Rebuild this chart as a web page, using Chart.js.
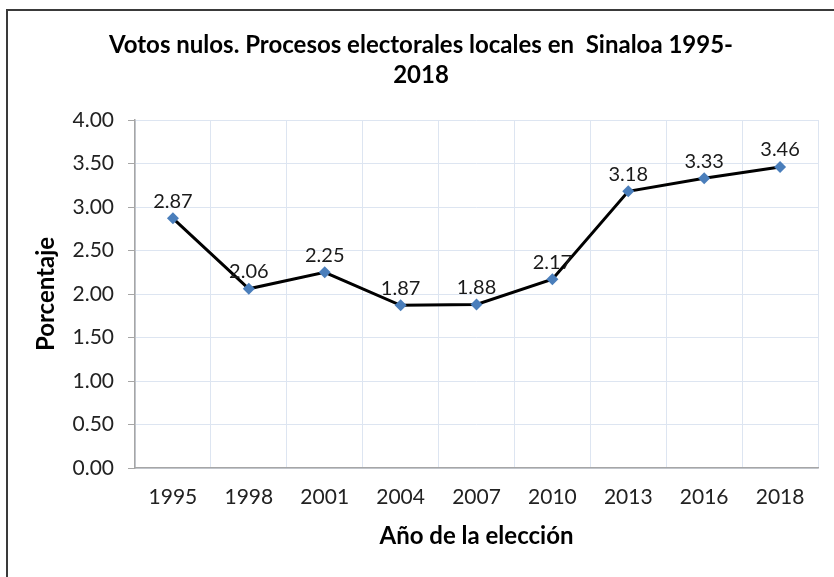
<!DOCTYPE html>
<html>
<head>
<meta charset="utf-8">
<script src="https://cdn.jsdelivr.net/npm/chart.js@4.4.0/dist/chart.umd.min.js"></script>
<style>
  html, body { margin: 0; padding: 0; background: #fff; }
  #frame {
    position: absolute; left: 6px; top: 9px; width: 840px; height: 580px;
    border-top: 2px solid #3a3a3a; border-left: 2px solid #3a3a3a;
  }
  #wrap { position: absolute; left: 0; top: 0; width: 834px; height: 577px; }
</style>
</head>
<body>
<div id="frame"></div>
<div id="wrap"><canvas id="chart"></canvas></div>
<script>
'use strict';

const TITLE_LINES = ['Votos nulos. Procesos electorales locales en  Sinaloa 1995-', '2018'];
const YEARS = ['1995', '1998', '2001', '2004', '2007', '2010', '2013', '2016', '2018'];
const NULL_VOTES = [2.87, 2.06, 2.25, 1.87, 1.88, 2.17, 3.18, 3.33, 3.46];
const Y_TICKS = [0, 0.5, 1, 1.5, 2, 2.5, 3, 3.5, 4];

const FONT = 'Lato, "Open Sans", sans-serif';

// title on two centered lines, above the plot
const titlePlugin = {
  id: 'twoLineTitle',
  afterDraw(chart) {
    const ctx = chart.ctx;
    ctx.save();
    ctx.fillStyle = '#000';
    ctx.font = `bold 24px ${FONT}`;
    ctx.textAlign = 'center';
    ctx.textBaseline = 'middle';
    TITLE_LINES.forEach((line, i) => ctx.fillText(line, 421, 45 + i * 30));
    ctx.restore();
  },
};

// value labels above each point
const labelPlugin = {
  id: 'pointLabels',
  afterDatasetsDraw(chart) {
    const ctx = chart.ctx;
    const meta = chart.getDatasetMeta(0);
    ctx.save();
    ctx.fillStyle = '#1a1a1a';
    ctx.font = `20px ${FONT}`;
    ctx.textAlign = 'center';
    ctx.textBaseline = 'middle';
    meta.data.forEach((pt, i) => {
      ctx.fillText(NULL_VOTES[i].toFixed(2), pt.x, pt.y - 17);
    });
    ctx.restore();
  },
};

new Chart(document.getElementById('chart'), {
  type: 'line',
  data: {
    labels: YEARS,
    datasets: [{
      data: NULL_VOTES,
      borderColor: '#000',
      borderWidth: 3,
      tension: 0,
      pointStyle: 'rectRot',
      pointRadius: 6,
      pointHoverRadius: 6,
      pointBackgroundColor: '#4a7ebb',
      pointBorderColor: '#4a7ebb',
      pointBorderWidth: 0,
      fill: false,
    }],
  },
  options: {
    responsive: true,
    maintainAspectRatio: false,
    animation: false,
    events: [],
    layout: { padding: { left: 30, right: 16, top: 120, bottom: 20 } },
    plugins: {
      legend: { display: false },
      tooltip: { enabled: false },
      title: { display: false },
    },
    scales: {
      x: {
        offset: true,
        grid: { offset: true, color: '#dde5f1', lineWidth: 1, drawTicks: false },
        border: { color: '#a6a6a6', width: 1.5 },
        ticks: { color: '#222', font: { family: FONT, size: 21 }, padding: 17, maxRotation: 0 },
        title: {
          display: true, text: 'Año de la elección', color: '#000',
          font: { family: FONT, size: 24, weight: 'bold' }, padding: { top: 0, bottom: 6 },
        },
        afterFit(axis) { axis.height = 89; },
      },
      y: {
        min: 0,
        max: 4,
        afterBuildTicks(axis) { axis.ticks = Y_TICKS.map(v => ({ value: v })); },
        grid: { color: '#dde5f1', lineWidth: 1, tickLength: 7, tickColor: '#a6a6a6' },
        border: { color: '#a6a6a6', width: 1.5 },
        ticks: {
          color: '#222', font: { family: FONT, size: 21 }, padding: 14,
          callback: v => Number(v).toFixed(2),
        },
        title: {
          display: true, text: 'Porcentaje', color: '#000',
          font: { family: FONT, size: 24, weight: 'bold' }, padding: { top: 2, bottom: 0 },
        },
        afterFit(axis) { axis.width = 105; },
      },
    },
  },
  plugins: [titlePlugin, labelPlugin],
});
</script>
</body>
</html>
